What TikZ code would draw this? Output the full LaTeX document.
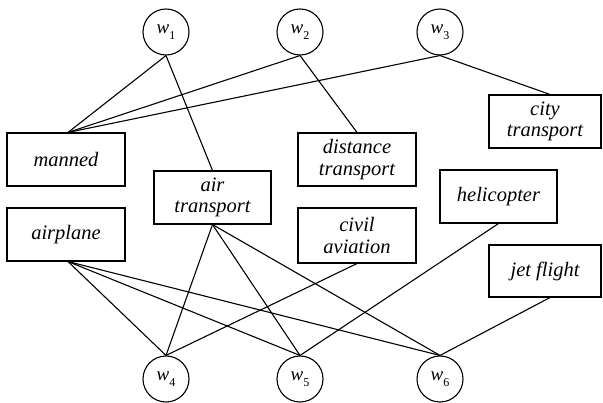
\documentclass[tikz,border=0pt]{standalone}
\usepackage{fontspec}
\setmainfont{Liberation Serif}
\begin{document}
\begin{tikzpicture}[x=1pt,y=-1pt,
  conn/.style={line width=1.1pt},
  wbox/.style={draw,line width=1.1pt,minimum height=53pt,inner sep=0pt,align=center,
    font=\fontsize{20.5}{21.5}\selectfont\itshape},
  wnode/.style={draw,circle,line width=1.1pt,minimum size=46pt,inner sep=0pt,
    font=\fontsize{19}{20}\selectfont}]
\useasboundingbox (0,0) rectangle (603,403);
\newcommand{\wlab}[1]{\textit{w}\raisebox{-0.3em}{\fontsize{12}{12}\selectfont #1}}
% circles
\node[wnode] (w1) at (166,32) {\wlab{1}};
\node[wnode] (w2) at (300,32) {\wlab{2}};
\node[wnode] (w3) at (440,32) {\wlab{3}};
\node[wnode] (w4) at (166,379) {\wlab{4}};
\node[wnode] (w5) at (300,379) {\wlab{5}};
\node[wnode] (w6) at (440,379) {\wlab{6}};
% boxes
\node[wbox,minimum width=118pt] (manned) at (66,159.5) {manned};
\node[wbox,minimum width=118pt] (airplane) at (66,234.5) {airplane};
\node[wbox,minimum width=117pt] (air) at (212.5,197.5) {air\\transport};
\node[wbox,minimum width=118pt] (dist) at (357,159.5) {distance\\transport};
\node[wbox,minimum width=118pt,minimum height=55pt] (civil) at (357,235.5) {civil\\aviation};
\node[wbox,minimum width=112pt] (city) at (545,121.5) {city\\transport};
\node[wbox,minimum width=117pt] (heli) at (498.5,196.5) {helicopter};
\node[wbox,minimum width=112pt,minimum height=52pt] (jet) at (545,271) {jet flight};
% connectors top
\draw[conn] (w1.south) -- ([xshift=2pt]manned.north);
\draw[conn] (w1.south) -- (air.north);
\draw[conn] (w2.south) -- ([xshift=2pt]manned.north);
\draw[conn] (w2.south) -- (dist.north);
\draw[conn] (w3.south) -- ([xshift=2pt]manned.north);
\draw[conn] (w3.south) -- ([xshift=5pt]city.north);
% connectors bottom
\draw[conn] ([xshift=2pt]airplane.south) -- (w4.north);
\draw[conn] ([xshift=2pt]airplane.south) -- (w5.north);
\draw[conn] ([xshift=2pt]airplane.south) -- (w6.north);
\draw[conn] (air.south) -- (w4.north);
\draw[conn] (air.south) -- (w5.north);
\draw[conn] (air.south) -- (w6.north);
\draw[conn] (civil.south) -- (w4.north);
\draw[conn] (heli.south) -- (w5.north);
\draw[conn] ([xshift=5pt]jet.south) -- (w6.north);
\end{tikzpicture}
\end{document}
